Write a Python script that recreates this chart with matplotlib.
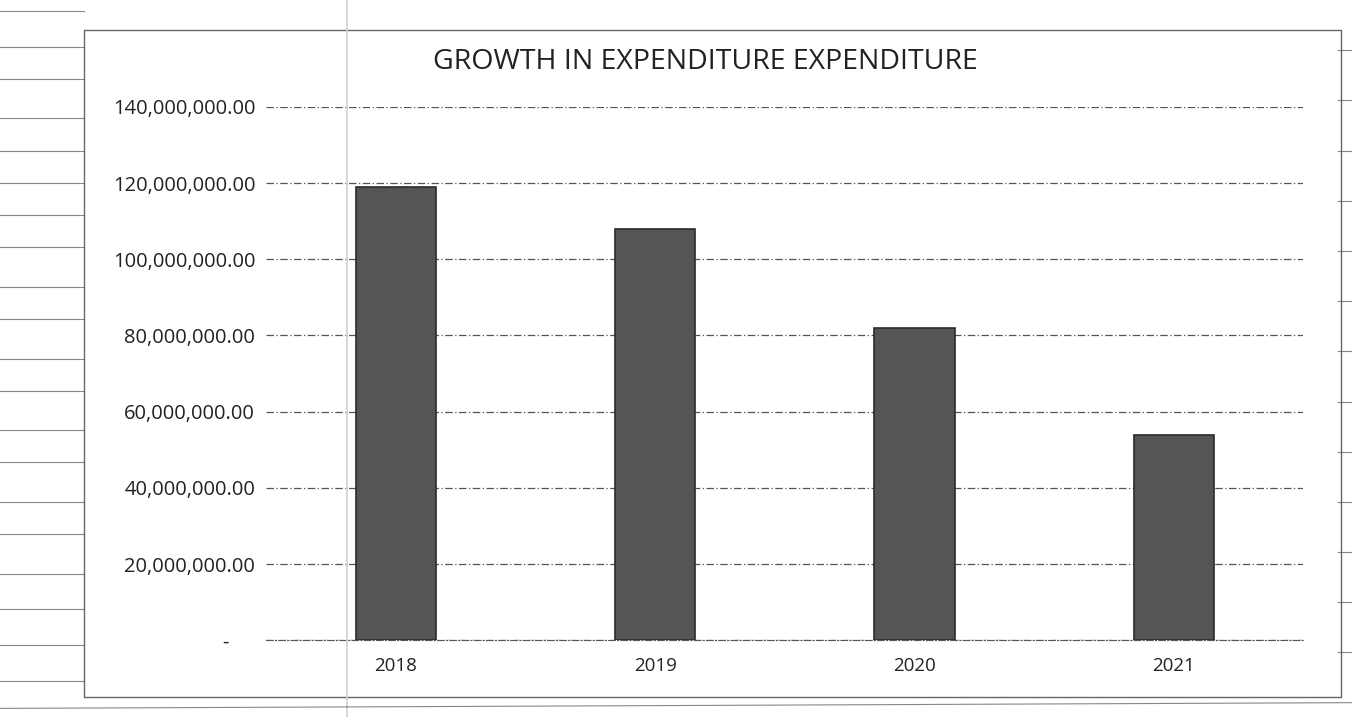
import matplotlib
matplotlib.use("Agg")
import matplotlib.pyplot as plt
from matplotlib.lines import Line2D
from matplotlib.patches import Rectangle
from matplotlib.ticker import FuncFormatter

years = ["2018", "2019", "2020", "2021"]
expenditure = [119_000_000, 108_000_000, 82_000_000, 54_000_000]
y_ticks = [0, 20_000_000, 40_000_000, 60_000_000, 80_000_000,
           100_000_000, 120_000_000, 140_000_000]
title = "GROWTH IN EXPENDITURE EXPENDITURE"

plt.rcParams["font.family"] = ["Open Sans", "DejaVu Sans"]

fig = plt.figure(figsize=(13.52, 7.17), dpi=100)
fig.patch.set_facecolor("white")

# spreadsheet cell borders around the chart object
for yy in [0.985, 0.935, 0.89, 0.835, 0.79, 0.745, 0.70, 0.655, 0.60, 0.555,
           0.50, 0.455, 0.40, 0.355, 0.30, 0.255, 0.20, 0.15, 0.10, 0.05]:
    fig.add_artist(Line2D([0.0, 0.062], [yy, yy], transform=fig.transFigure,
                          color="#555555", lw=0.8, alpha=0.7))
for yy in [0.93, 0.86, 0.79, 0.72, 0.65, 0.58, 0.51, 0.44, 0.37, 0.30, 0.23, 0.16, 0.09]:
    fig.add_artist(Line2D([0.99, 1.0], [yy, yy], transform=fig.transFigure,
                          color="#555555", lw=0.8, alpha=0.7))
fig.add_artist(Line2D([0.257, 0.257], [0.0, 1.0], transform=fig.transFigure,
                      color="#d8c8e0", lw=1.2))
fig.add_artist(Line2D([0.0, 1.0], [0.012, 0.02], transform=fig.transFigure,
                      color="#555555", lw=0.8, alpha=0.7))

# chart object border
fig.add_artist(Rectangle((0.062, 0.028), 0.93, 0.93, transform=fig.transFigure,
                         fill=False, edgecolor="#666666", lw=1.0))

ax = fig.add_axes([0.197, 0.107, 0.767, 0.744])
x = range(len(years))
ax.bar(x, expenditure, width=0.31, color="#555555", edgecolor="#2b2b2b",
       linewidth=1.2, zorder=3)

ax.set_xlim(-0.5, len(years) - 0.5)
ax.set_ylim(0, 140_000_000)
ax.set_yticks(y_ticks)
ax.yaxis.set_major_formatter(
    FuncFormatter(lambda v, p: "-     " if v == 0 else f"{v:,.2f}"))
ax.set_xticks(list(x))
ax.set_xticklabels(years)

ax.grid(axis="y", linestyle=(0, (6, 2, 1, 2)), color="#555555", linewidth=0.9, zorder=0)
for s in ["top", "right", "left"]:
    ax.spines[s].set_visible(False)
ax.spines["bottom"].set_color("#555555")
ax.spines["bottom"].set_linestyle((0, (6, 2, 1, 2)))
ax.tick_params(axis="both", length=0, colors="#222222")
ax.tick_params(axis="y", pad=8, labelsize=14.5)
ax.tick_params(axis="x", pad=12, labelsize=13.5)

fig.text(0.522, 0.913, title, ha="center", va="center", fontsize=20.5, color="#222222")

fig.savefig("out.png", dpi=100, facecolor="white")
